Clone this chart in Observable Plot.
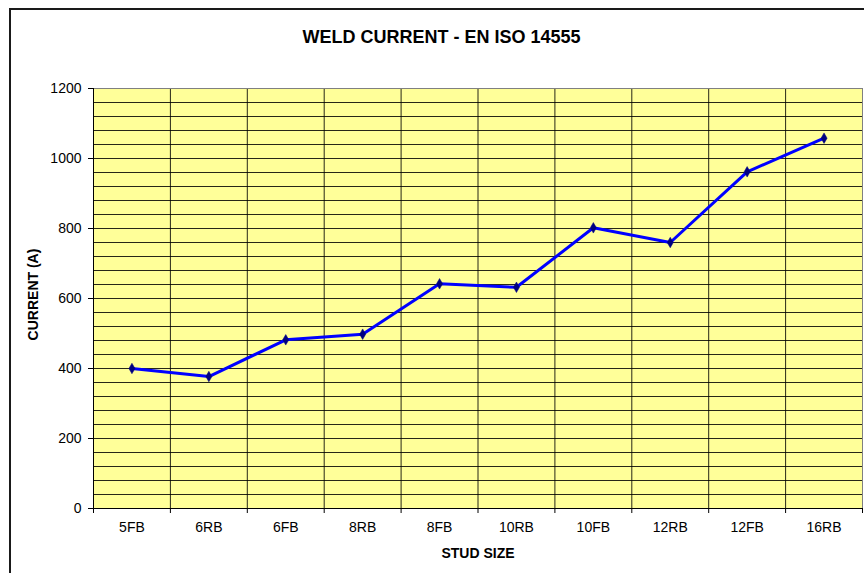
<!DOCTYPE html>
<html>
<head>
<meta charset="utf-8">
<script src="https://cdn.jsdelivr.net/npm/d3@7"></script>
<script src="https://cdn.jsdelivr.net/npm/@observablehq/plot@0.6"></script>
<style>
  html, body { margin: 0; padding: 0; background: #fff; }
  #wrap { position: relative; width: 864px; height: 573px; overflow: hidden; }
  #border { position: absolute; left: 9px; top: 8px; width: 900px; height: 600px; border: 2px solid #1a1a1a; pointer-events: none; }
  #chart { position: absolute; left: 0; top: 0; }
</style>
</head>
<body>
<div id="wrap"><div id="chart"></div><div id="border"></div></div>
<script>
const categories = ["5FB", "6RB", "6FB", "8RB", "8FB", "10RB", "10FB", "12RB", "12FB", "16RB"];
const current = [400, 377, 482, 498, 642, 632, 802, 760, 962, 1058];
const yTicks = [0, 200, 400, 600, 800, 1000, 1200];
const yGrid = d3.range(0, 1201, 40);
const title = "WELD CURRENT - EN ISO 14555";
const xLabel = "STUD SIZE";
const yLabel = "CURRENT (A)";

const data = categories.map((c, i) => ({cat: c, idx: i + 0.5, value: current[i]}));
const bounds = d3.range(0, categories.length + 1);
const centers = categories.map((c, i) => i + 0.5);

const chart = Plot.plot({
  width: 864,
  height: 573,
  marginLeft: 93,
  marginRight: 2,
  marginTop: 88,
  marginBottom: 65,
  style: {fontFamily: "'Liberation Sans', Arial, sans-serif", fontSize: "14px", color: "#000", background: "transparent"},
  x: {domain: [0, categories.length], axis: null},
  y: {domain: [0, 1200], axis: null},
  marks: [
    Plot.frame({fill: "#FFFF99", stroke: "none"}),
    Plot.ruleY(yGrid, {stroke: "#000", strokeWidth: 1, strokeOpacity: 0.85}),
    Plot.ruleX(bounds, {stroke: "#000", strokeWidth: 1, strokeOpacity: 0.85}),
    Plot.frame({stroke: "#808080", strokeWidth: 1}),
    Plot.axisY({ticks: yTicks, tickSize: 5, tickPadding: 7, fontSize: 14, tickFormat: d3.format("d"), label: null, stroke: "#000"}),
    Plot.axisX({ticks: bounds, tickSize: 5, tickFormat: () => "", label: null, stroke: "#000"}),
    Plot.axisX({ticks: centers, tickSize: 0, tickPadding: 14, fontSize: 14, tickFormat: d => categories[Math.round(d - 0.5)], label: null}),
    Plot.ruleY([0], {stroke: "#000", strokeWidth: 1}),
    Plot.ruleX([0], {stroke: "#000", strokeWidth: 1}),
    Plot.line(data, {x: "idx", y: "value", stroke: "#0000FF", strokeWidth: 3}),
    Plot.dot(data, {x: "idx", y: "value", symbol: "diamond", r: 3.2, fill: "#000080", stroke: "#000080", strokeWidth: 0.5}),
    Plot.text([title], {frameAnchor: "top", textAnchor: "middle", dx: -36.5, dy: -51, lineAnchor: "middle", fontSize: 18, fontWeight: "bold", fill: "#000"}),
    Plot.text([xLabel], {frameAnchor: "bottom", textAnchor: "middle", dy: 45.5, lineAnchor: "middle", fontSize: 14, fontWeight: "bold", fill: "#000"}),
    Plot.text([yLabel], {frameAnchor: "left", textAnchor: "middle", dx: -59.5, dy: -4, rotate: -90, lineAnchor: "middle", fontSize: 14, fontWeight: "bold", fill: "#000"})
  ]
});
document.getElementById("chart").appendChild(chart);
</script>
</body>
</html>
